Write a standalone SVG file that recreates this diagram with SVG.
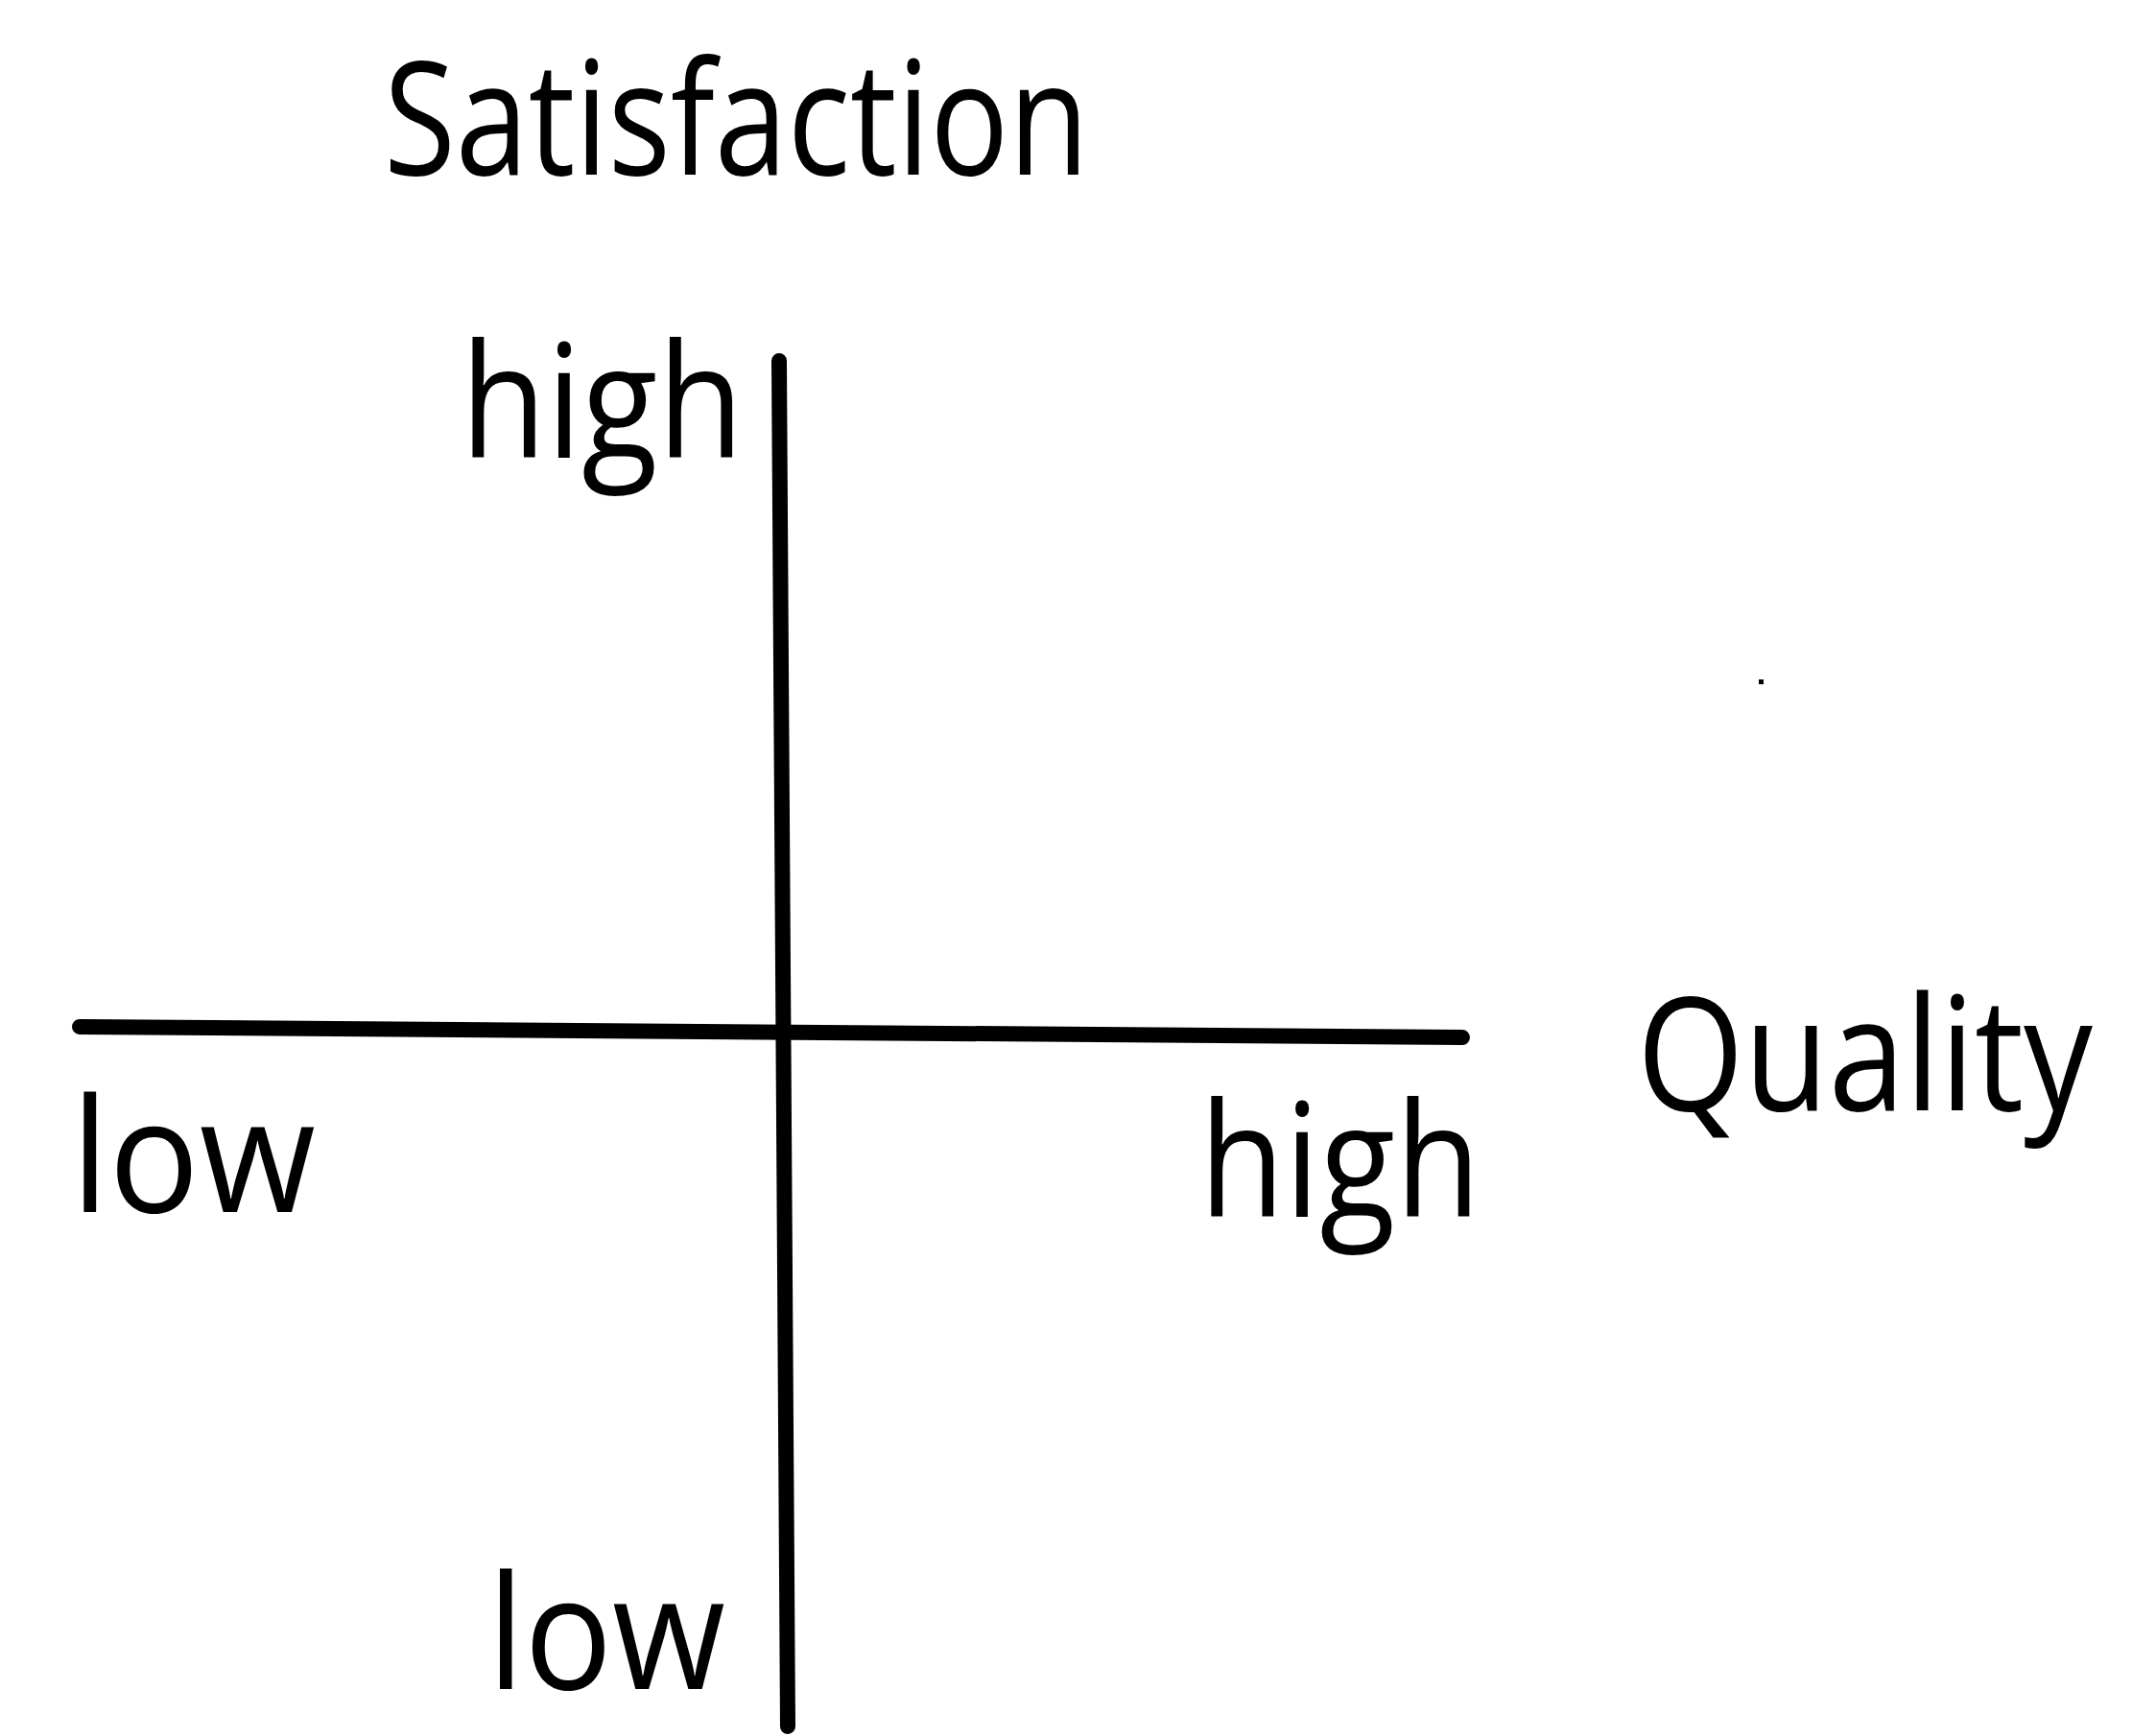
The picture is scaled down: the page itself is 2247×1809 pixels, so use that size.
<svg xmlns="http://www.w3.org/2000/svg" width="2247" height="1809" viewBox="0 0 2247 1809">
<style>
.t{font-family:"Open Sans","DejaVu Sans",sans-serif;font-size:164px;fill:#000;}
.ax{stroke:#000;stroke-width:16;stroke-linecap:round;fill:none;}
</style>
<rect width="2247" height="1809" fill="#fff"/>
<g id="connectors">
<line class="ax" x1="812" y1="376" x2="821" y2="1799"/>
<line class="ax" x1="83" y1="1070" x2="1524" y2="1081"/>
</g>
<g id="satisfaction"><text class="t" x="400" y="182" textLength="735" lengthAdjust="spacingAndGlyphs">Satisfaction</text></g>
<g id="high-y"><text class="t" x="480" y="477" textLength="295" lengthAdjust="spacingAndGlyphs">high</text></g>
<g id="low-x"><text class="t" x="74" y="1263" textLength="255" lengthAdjust="spacingAndGlyphs">low</text></g>
<g id="high-x"><text class="t" x="1250" y="1268" textLength="293" lengthAdjust="spacingAndGlyphs">high</text></g>
<g id="quality"><text class="t" x="1706" y="1157" textLength="475" lengthAdjust="spacingAndGlyphs">Quality</text></g>
<g id="low-y"><text class="t" x="508" y="1760" textLength="248" lengthAdjust="spacingAndGlyphs">low</text></g>
<rect x="1833" y="708" width="5" height="5" fill="#000"/>
</svg>
